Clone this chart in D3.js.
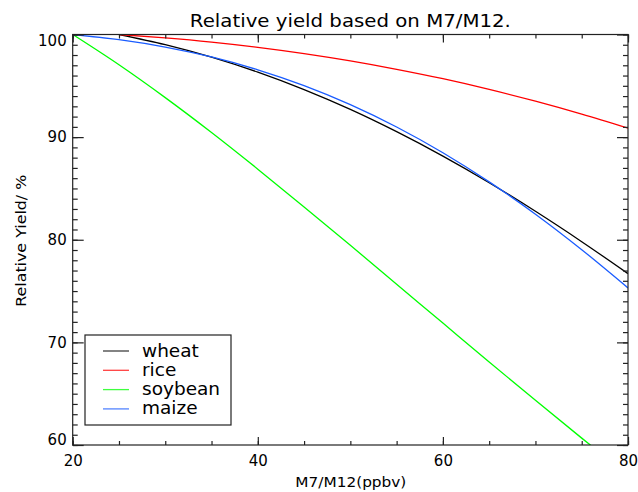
<!DOCTYPE html>
<html>
<head>
<meta charset="utf-8">
<script src="https://cdn.jsdelivr.net/npm/d3@7"></script>
<style>
  html, body { margin: 0; padding: 0; background: #fff; }
  svg { display: block; font-family: "DejaVu Sans", sans-serif; }
</style>
</head>
<body>
<svg id="chart" width="638" height="492"></svg>
<script>
// ---- data ----
const xValues = [20, 25, 30, 35, 40, 45, 50, 55, 60, 65, 70, 75, 80];
const wheat   = [null, 100.0, 99.01, 97.79, 96.33, 94.63, 92.70, 90.53, 88.15, 85.56, 82.77, 79.81, 76.70];
const rice    = [null, 100.0, 99.67, 99.26, 98.75, 98.14, 97.43, 96.61, 95.69, 94.65, 93.50, 92.24, 90.87];
const soybean = [100.0, 97.05, 93.85, 90.45, 86.88, 83.20, 79.46, 75.67, 71.88, 68.09, 64.35, 60.67, 57.07];
const maize   = [100.0, 99.50, 98.78, 97.81, 96.56, 95.02, 93.17, 90.99, 88.48, 85.64, 82.49, 79.03, 75.31];
const seriesNames = ["wheat", "rice", "soybean", "maize"];
const seriesColors = ["#000000", "#ff0000", "#00ff00", "#1a5cff"];
const xTicks = [20, 40, 60, 80];
const yTicks = [60, 70, 80, 90, 100];
const titleText = "Relative yield based on M7/M12.";
const xTitle = "M7/M12(ppbv)";
const yTitle = "Relative Yield/ %";

const seriesData = [wheat, rice, soybean, maize];

// ---- layout ----
const svg = d3.select("#chart");
const L = 72.7, R = 628, T = 34.5, B = 445;
const x = d3.scaleLinear().domain([20, 80]).range([L, R]);
const y = d3.scaleLinear().domain([60, 100]).range([B, T]);
const axisColor = "#222";

svg.append("defs").append("clipPath").attr("id", "plotclip")
  .append("rect").attr("x", L).attr("y", T).attr("width", R - L).attr("height", B - T);

// lines
const line = d3.line()
  .defined(d => d[1] != null)
  .x(d => x(d[0])).y(d => y(d[1]))
  .curve(d3.curveMonotoneX);

const gLines = svg.append("g").attr("clip-path", "url(#plotclip)");
seriesData.forEach((vals, i) => {
  gLines.append("path")
    .datum(xValues.map((xv, j) => [xv, vals[j]]))
    .attr("fill", "none")
    .attr("stroke", seriesColors[i])
    .attr("stroke-width", 1.3)
    .attr("d", line);
});

// frame
svg.append("rect").attr("x", L).attr("y", T).attr("width", R - L).attr("height", B - T)
  .attr("fill", "none").attr("stroke", axisColor).attr("stroke-width", 1.2);

function styleAxis(g) {
  g.select(".domain").remove();
  g.selectAll(".tick line").attr("stroke", axisColor).attr("stroke-width", 1.2);
}

const xMinor = d3.range(20, 80.01, 5);
const yMinor = d3.range(60, 100.01, 1);

// bottom
svg.append("g").attr("transform", `translate(0,${B})`)
  .call(d3.axisBottom(x).tickValues(xMinor).tickSize(-4).tickFormat(""))
  .call(styleAxis);
svg.append("g").attr("transform", `translate(0,${B})`)
  .call(d3.axisBottom(x).tickValues(xTicks).tickSize(-8).tickPadding(10).tickFormat(d3.format("d")))
  .call(styleAxis)
  .call(g => g.selectAll("text").attr("font-size", 15).attr("fill", "#000")
    .attr("font-family", "DejaVu Sans, sans-serif"));
// top
svg.append("g").attr("transform", `translate(0,${T})`)
  .call(d3.axisTop(x).tickValues(xMinor).tickSize(-4).tickFormat(""))
  .call(styleAxis);
svg.append("g").attr("transform", `translate(0,${T})`)
  .call(d3.axisTop(x).tickValues(xTicks).tickSize(-8).tickFormat(""))
  .call(styleAxis);
// left
svg.append("g").attr("transform", `translate(${L},0)`)
  .call(d3.axisLeft(y).tickValues(yMinor).tickSize(-5).tickFormat(""))
  .call(styleAxis);
svg.append("g").attr("transform", `translate(${L},0)`)
  .call(d3.axisLeft(y).tickValues(yTicks).tickSize(-11).tickPadding(6).tickFormat(d3.format("d")))
  .call(styleAxis)
  .call(g => g.selectAll("text").attr("font-size", 15).attr("fill", "#000")
    .attr("font-family", "DejaVu Sans, sans-serif")
    .attr("transform", d => d === 100 ? "translate(0,6)" : d === 60 ? "translate(0,-5)" : null));
// right
svg.append("g").attr("transform", `translate(${R},0)`)
  .call(d3.axisRight(y).tickValues(yMinor).tickSize(-5).tickFormat(""))
  .call(styleAxis);
svg.append("g").attr("transform", `translate(${R},0)`)
  .call(d3.axisRight(y).tickValues(yTicks).tickSize(-11).tickFormat(""))
  .call(styleAxis);

// titles
svg.append("text").attr("x", (L + R) / 2).attr("y", 27)
  .attr("text-anchor", "middle").attr("font-size", 17)
  .attr("textLength", 321).attr("lengthAdjust", "spacingAndGlyphs")
  .text(titleText);
svg.append("text").attr("x", (L + R) / 2 + 0.5).attr("y", 487)
  .attr("text-anchor", "middle").attr("font-size", 14)
  .attr("textLength", 111).attr("lengthAdjust", "spacingAndGlyphs")
  .text(xTitle);
svg.append("text").attr("transform", `translate(26,${(T + B) / 2 + 1}) rotate(-90)`)
  .attr("text-anchor", "middle").attr("font-size", 14)
  .attr("textLength", 132).attr("lengthAdjust", "spacingAndGlyphs")
  .text(yTitle);

// legend
const lg = svg.append("g");
lg.append("rect").attr("x", 85).attr("y", 335).attr("width", 146).attr("height", 90)
  .attr("fill", "#fff").attr("stroke", axisColor).attr("stroke-width", 1.2);
seriesNames.forEach((name, i) => {
  const yy = 351 + i * 19.3;
  lg.append("line").attr("x1", 103).attr("x2", 129).attr("y1", yy).attr("y2", yy)
    .attr("stroke", seriesColors[i]).attr("stroke-width", 1.3).attr("opacity", 0.75);
  lg.append("text").attr("x", 142).attr("y", yy + 5.5).attr("font-size", 18.5)
    .attr("fill", "#000").text(name);
});
</script>
</body>
</html>
